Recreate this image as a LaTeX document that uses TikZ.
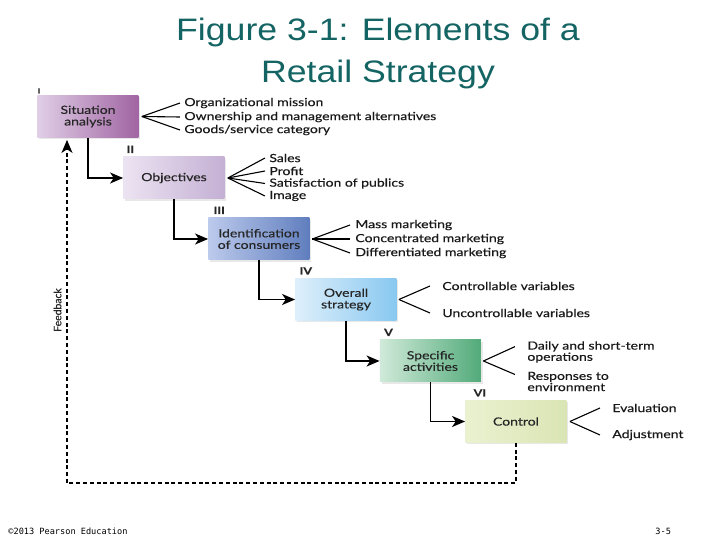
\documentclass[tikz,border=0pt]{standalone}
\usepackage{fontspec}
\setmainfont{Lato}
\newfontfamily\diagfont[FakeStretch=1.25,FakeBold=0.35]{Lato}
\newfontfamily\fbfont[FakeBold=0.3]{Lato}
\newfontfamily\titlefont[FakeStretch=1.15]{Liberation Sans}
\newfontfamily\footfont{DejaVu Sans Mono}
\usetikzlibrary{arrows.meta,shadows}
\definecolor{titlecol}{RGB}{20,100,100}
\definecolor{sitL}{RGB}{224,206,230}
\definecolor{sitR}{RGB}{160,100,162}
\definecolor{objL}{RGB}{236,227,242}
\definecolor{objR}{RGB}{196,176,212}
\definecolor{idnL}{RGB}{188,202,236}
\definecolor{idnR}{RGB}{96,126,190}
\definecolor{ovrL}{RGB}{222,239,251}
\definecolor{ovrR}{RGB}{136,200,240}
\definecolor{spcL}{RGB}{208,234,217}
\definecolor{spcR}{RGB}{82,170,122}
\definecolor{ctlL}{RGB}{234,241,208}
\definecolor{ctlR}{RGB}{218,229,180}
\begin{document}
\begin{tikzpicture}[x=0.5pt,y=-0.5pt,
  stepbox/.style={minimum width=50.5pt, minimum height=21pt, inner sep=1pt, align=center,
    font=\diagfont\fontsize{5.6}{5.8}\selectfont, text=black!85,
    drop shadow={opacity=0.18, shadow xshift=0.8pt, shadow yshift=-0.8pt}},
  item/.style={anchor=west, inner sep=0pt, align=left, font=\diagfont\fontsize{5.6}{5.6}\selectfont, text=black!90},
  num/.style={anchor=south west, inner sep=0.6pt, font=\diagfont\fontsize{5}{5}\selectfont\bfseries, text=black!85},
  arr/.style={line width=0.7pt, -{Stealth[length=6.5pt,width=5.5pt,inset=1.8pt]}},
  fan/.style={line width=0.55pt},
  fb/.style={line width=0.75pt, dash pattern=on 2pt off 1.4pt}]
\useasboundingbox[fill=white] (0,0) rectangle (720,540);

% title
\node[font=\titlefont\fontsize{15.5}{21}\selectfont, text=titlecol, align=center] (title) at (378,53.5)
  {Figure 3-1: Elements of a\\Retail Strategy};

% boxes
\node[stepbox, left color=sitL, right color=sitR] (sit) at (88,116.5) {Situation\\analysis};
\node[stepbox, left color=objL, right color=objR] (obj) at (174,178) {Objectives};
\node[stepbox, left color=idnL, right color=idnR] (idn) at (259,239) {Identification\\of consumers};
\node[stepbox, left color=ovrL, right color=ovrR] (ovr) at (346,299.5) {Overall\\strategy};
\node[stepbox, left color=spcL, right color=spcR] (spc) at (430.5,361) {Specific\\activities};
\node[stepbox, left color=ctlL, right color=ctlR] (ctl) at (516,421.5) {Control};

% numerals
\node[num] (n1) at ([xshift=-0.5pt]sit.north west) {\fontsize{3.5}{3.5}\selectfont I};
\node[num] (n2) at ([xshift=1pt,yshift=1pt]obj.north west) {II};
\node[num] (n3) at ([xshift=2pt,yshift=1pt]idn.north west) {III};
\node[num] (n4) at ([xshift=1.5pt,yshift=1pt]ovr.north west) {IV};
\node[num] (n5) at ([xshift=1.5pt,yshift=1pt]spc.north west) {V};
\node[num] (n6) at ([xshift=3.5pt,yshift=1pt]ctl.north west) {VI};

% items
\node[item] (s1) at (184,103) {Organizational mission};
\node[item] (s2) at (184,117) {Ownership and management alternatives};
\node[item] (s3) at (184,130) {Goods/service category};
\node[item] (o1) at (269,158) {Sales};
\node[item] (o2) at (269,171) {Profit};
\node[item] (o3) at (269,183.5) {Satisfaction of publics};
\node[item] (o4) at (269,196) {Image};
\node[item] (i1) at (355,225) {Mass marketing};
\node[item] (i2) at (355,239) {Concentrated marketing};
\node[item] (i3) at (355,253) {Differentiated marketing};
\node[item] (v1) at (442,286) {Controllable variables};
\node[item] (v2) at (442,313) {Uncontrollable variables};
\node[item] (p1) at (527,352) {Daily and short-term\\operations};
\node[item] (p2) at (527,381.5) {Responses to\\environment};
\node[item] (c1) at (612,408) {Evaluation};
\node[item] (c2) at (612,435) {Adjustment};

% fans
\coordinate (sa) at ([xshift=1.5pt]sit.east);
\foreach \t in {s1,s2,s3} \draw[fan] (sa) -- ([xshift=-2pt]\t.west);
\coordinate (oa) at ([xshift=1.5pt]obj.east);
\foreach \t in {o1,o2,o3,o4} \draw[fan] (oa) -- ([xshift=-2pt]\t.west);
\coordinate (ia) at ([xshift=1.2pt]idn.east);
\foreach \t in {i1,i2,i3} \draw[fan] (ia) -- ([xshift=-2.5pt]\t.west);
\coordinate (va) at ([xshift=1pt]ovr.east);
\foreach \t in {v1,v2} \draw[fan] (va) -- ([xshift=-6pt]\t.west);
\coordinate (pa) at ([xshift=1pt]spc.east);
\draw[fan] (pa) -- ([xshift=-6pt,yshift=2.7pt]p1.west);
\draw[fan] (pa) -- ([xshift=-6pt,yshift=3.5pt]p2.west);
\coordinate (ca) at ([xshift=1.5pt]ctl.east);
\foreach \t in {c1,c2} \draw[fan] (ca) -- ([xshift=-6pt]\t.west);

% flow arrows
\draw[arr] (sit.south) |- (obj.west);
\draw[arr] (obj.south) |- (idn.west);
\draw[arr] (idn.south) |- (ovr.west);
\draw[arr] (ovr.south) |- (spc.west);
\draw[arr] (spc.south) |- (ctl.west);

% feedback
\coordinate (fbc) at (67,483);
\draw[fb] (ctl.south) |- (fbc);
\draw[fb, -{Stealth[length=6.5pt,width=5.5pt,inset=1.8pt]}] (fbc) -- ([yshift=-1pt]sit.south -| fbc);
\node[rotate=90, font=\fbfont\fontsize{5.2}{5.5}\selectfont, text=black!85] (fbl) at (57.5,310) {Feedback};

% footer
\node[anchor=west, inner sep=0pt, font=\footfont\fontsize{4.3}{5}\selectfont] (foot) at (8,531) {©2013 Pearson Education};
\node[anchor=west, inner sep=0pt, font=\footfont\fontsize{4.3}{5}\selectfont] (page) at (655,531) {3-5};
\end{tikzpicture}
\end{document}
